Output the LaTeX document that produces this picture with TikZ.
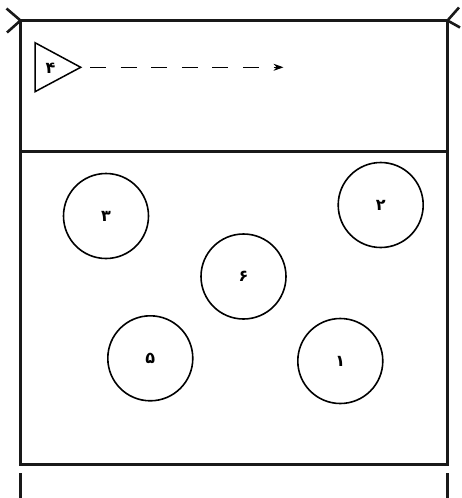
\documentclass[tikz,border=0pt]{standalone}
\usepackage{fontspec}
\newfontfamily\arabicfont[Script=Arabic]{DejaVu Sans}
\TeXXeTstate=1
\usetikzlibrary{arrows.meta}
\begin{document}
\begin{tikzpicture}[x=1pt,y=-1pt,
  court/.style={line width=3pt,black!90},
  digits/.style={font=\arabicfont\bfseries\fontsize{16}{16}\selectfont},
  player/.style={circle,draw,line width=1.6pt,minimum size=85pt,inner sep=0pt,digits},
  lbl/.style={inner sep=0pt,digits}]
\useasboundingbox (0,0) rectangle (462,498);
% court
\coordinate (TL) at (20.5,20.5);
\coordinate (TR) at (447.5,20.5);
\coordinate (BL) at (20.5,464.5);
\coordinate (BR) at (447.5,464.5);
\draw[court] (TL) -- (TR) -- (BR) -- (BL) -- cycle;
\coordinate (ML) at (20.5,151);
\coordinate (MR) at (447.5,151);
\draw[court] (ML) -- (MR);
% corner marks
\draw[court,line width=2.6pt] (6.5,8.5) -- (TL) -- (7,32.5);
\draw[court,line width=2.6pt] (459,7.5) -- (TR) -- (460,27.5);
% bottom ticks
\draw[court] (20.5,473) -- (20.5,498);
\draw[court] (447.5,473) -- (447.5,498);
% server triangle
\draw[line width=1.5pt,line join=miter] (35,42.7) -- (35,91.7) -- (80.7,67.3) -- cycle;
\node[lbl] (p4) at (50.5,67.8) {\beginR ۴\endR};
\coordinate (s) at (90,67.3);
\coordinate (e) at (283.5,67.3);
\draw[line width=1pt,dash pattern=on 16pt off 14.6pt,-{Stealth[length=10pt,width=7pt]}] (s) -- (e);
% players
\node[player] (c3) at (106,216) {\beginR ۳\endR};
\node[player] (c2) at (380.7,205) {\beginR ۲\endR};
\node[player] (c6) at (243.5,276.5) {\beginR ۶\endR};
\node[player] (c5) at (150.3,358.3) {\beginR ۵\endR};
\node[player] (c1) at (340.3,361) {\beginR ۱\endR};
\end{tikzpicture}
\end{document}
